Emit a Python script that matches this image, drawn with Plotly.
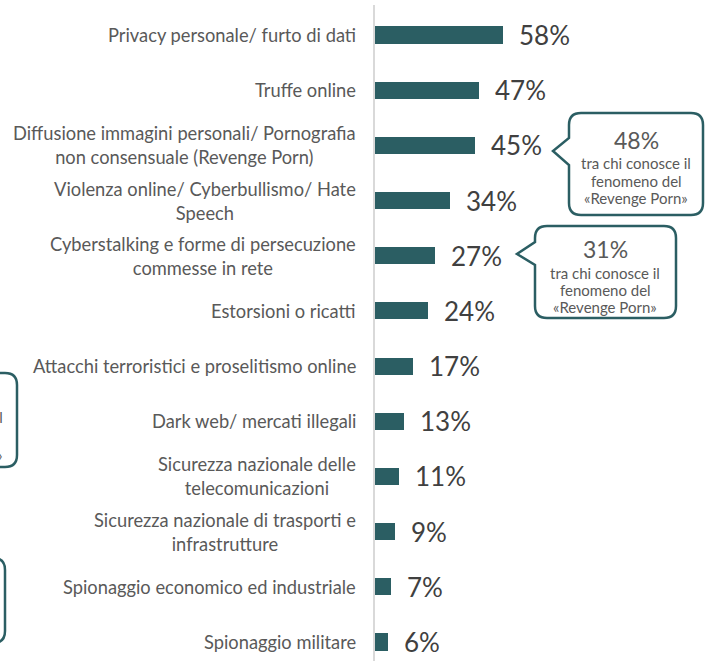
import plotly.graph_objects as go

categories = [
    "Privacy personale/ furto di dati",
    "Truffe online",
    "Diffusione immagini personali/ Pornografia<br>non consensuale (Revenge Porn)",
    "Violenza online/ Cyberbullismo/ Hate<br>Speech",
    "Cyberstalking e forme di persecuzione<br>commesse in rete",
    "Estorsioni o ricatti",
    "Attacchi terroristici e proselitismo online",
    "Dark web/ mercati illegali",
    "Sicurezza nazionale delle<br>telecomunicazioni",
    "Sicurezza nazionale di trasporti e<br>infrastrutture",
    "Spionaggio economico ed industriale",
    "Spionaggio militare",
]
values = [58, 47, 45, 34, 27, 24, 17, 13, 11, 9, 7, 6]
callout_values = ["48%", "31%"]
callout_lines = ["tra chi conosce il", "fenomeno del", "«Revenge Porn»"]

W, H = 706, 661
L, R, T, B = 375, 0, 5, 0
PW, PH = W - L - R, H - T - B
BAR = "#2b5e63"
TXT = "#404040"
LBL = "#595959"

def px(x):
    return (x - L) / PW

def py(y):
    return 1 - (y - T) / PH

def callout_path(x0, y0, x1, y1, ty1, ty2, tx, ty, r=12):
    pts = [
        ("M", [(x0 + r, y0)]),
        ("L", [(x1 - r, y0)]),
        ("Q", [(x1, y0), (x1, y0 + r)]),
        ("L", [(x1, y1 - r)]),
        ("Q", [(x1, y1), (x1 - r, y1)]),
        ("L", [(x0 + r, y1)]),
        ("Q", [(x0, y1), (x0, y1 - r)]),
        ("L", [(x0, ty2)]),
        ("L", [(tx, ty)]),
        ("L", [(x0, ty1)]),
        ("L", [(x0, y0 + r)]),
        ("Q", [(x0, y0), (x0 + r, y0)]),
    ]
    s = ""
    for cmd, ps in pts:
        s += cmd + " " + " ".join(f"{px(a):.5f},{py(b):.5f}" for a, b in ps) + " "
    return s + "Z"

def rrect_path(x0, y0, x1, y1, r=12):
    return callout_path(x0, y0, x1, y1, y0 + r, y0 + r, x0, y0 + r, r)

ypos = list(range(len(categories)))

fig = go.Figure()
fig.add_trace(go.Bar(
    x=values, y=ypos, orientation="h",
    marker=dict(color=BAR, line=dict(width=0)),
    width=0.31, hoverinfo="skip",
))

annotations = []
for i, (c, v) in enumerate(zip(categories, values)):
    annotations.append(dict(
        x=0, y=i, xref="x", yref="y", text=c, showarrow=False,
        xanchor="right", yanchor="middle", align="center", xshift=-17,
        font=dict(family="Lato", size=18.3, color=LBL),
    ))
    annotations.append(dict(
        x=v, y=i, xref="x", yref="y", text=f"{v}%", showarrow=False,
        xanchor="left", yanchor="middle", xshift=14,
        font=dict(family="Lato", size=26, color=TXT),
    ))

shapes = []
callouts = [
    dict(box=(569, 113, 703, 215), tail=(138, 165, 553, 151), cx=636, ty=140, sy=[163, 181, 198]),
    dict(box=(535, 226, 676, 318), tail=(242, 265, 517, 254), cx=605, ty=249, sy=[273, 290, 307]),
]
for cv, c in zip(callout_values, callouts):
    x0, y0, x1, y1 = c["box"]
    shapes.append(dict(type="path", xref="paper", yref="paper",
                       path=callout_path(x0, y0, x1, y1, *c["tail"]),
                       line=dict(color=BAR, width=2.5), fillcolor="white"))
    annotations.append(dict(x=px(c["cx"]), y=py(c["ty"]), xref="paper", yref="paper",
                            text=cv, showarrow=False, xanchor="center", yanchor="middle",
                            font=dict(family="Lato", size=23, color=LBL)))
    for line, yy in zip(callout_lines, c["sy"]):
        annotations.append(dict(x=px(c["cx"]), y=py(yy), xref="paper", yref="paper",
                                text=line, showarrow=False, xanchor="center", yanchor="middle",
                                font=dict(family="Lato", size=15, color=LBL)))

# cut-off boxes at the left edge
shapes.append(dict(type="path", xref="paper", yref="paper",
                   path=rrect_path(-150, 373, 17, 467), line=dict(color=BAR, width=2.5)))
shapes.append(dict(type="path", xref="paper", yref="paper",
                   path=rrect_path(-150, 558, 5, 643), line=dict(color=BAR, width=2.5)))
annotations.append(dict(x=px(5), y=py(417), xref="paper", yref="paper", text="conosce il",
                        showarrow=False, xanchor="right", yanchor="middle",
                        font=dict(family="Lato", size=15, color=LBL)))
annotations.append(dict(x=px(4), y=py(455), xref="paper", yref="paper", text="Porn»",
                        showarrow=False, xanchor="right", yanchor="middle",
                        font=dict(family="Lato", size=15, color=LBL)))

fig.update_layout(
    width=W, height=H,
    margin=dict(l=L, r=R, t=T, b=B, pad=0),
    paper_bgcolor="white", plot_bgcolor="white",
    showlegend=False,
    xaxis=dict(range=[0, PW / 2.215], visible=False, fixedrange=True),
    yaxis=dict(range=[11 + 19 / 55.2, -30 / 55.2], showticklabels=False, ticks="",
               showgrid=False, zeroline=False, showline=True, linecolor="#d9d9d9",
               linewidth=2, fixedrange=True),
    annotations=annotations,
    shapes=shapes,
    bargap=0,
)

fig.write_html("out.html", config={"displayModeBar": False},
               post_script="document.body.style.margin='0';document.body.style.overflow='hidden';")
